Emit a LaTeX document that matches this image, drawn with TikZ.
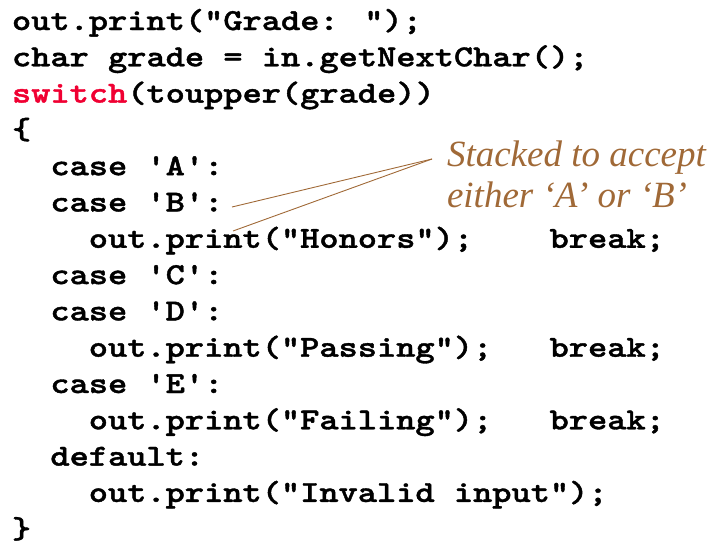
\documentclass[tikz,border=0pt]{standalone}
\usepackage{fontspec}
\usetikzlibrary{calc}
\newfontfamily\notefont{Liberation Serif}
\newfontfamily\codefont{lmmonolt10-bold}[Extension=.otf, FakeBold=1.2]
\definecolor{kwred}{RGB}{240,0,50}
\definecolor{notebrown}{RGB}{160,105,55}
\definecolor{titlegreen}{RGB}{0,170,70}
\newcommand\codeline[1]{\scalebox{1.2}[1]{#1}}
\tikzset{
  code/.style={anchor=base west, inner sep=0pt, outer sep=0pt,
    font=\codefont\fontsize{30.5}{36}\selectfont, text=black},
  note/.style={anchor=base west, inner sep=0pt, outer sep=0pt,
    font=\notefont\itshape\fontsize{37}{42}\selectfont, text=notebrown},
  pointer/.style={draw=notebrown, line width=0.9pt}
}
\begin{document}
\begin{tikzpicture}[x=1pt,y=-1pt]
\useasboundingbox (0,0) rectangle (712,546);
\def\cw{19.2}
\def\lx{12}
% green fragment of a title above
\fill[titlegreen] (298,0) arc[start angle=180, end angle=360, x radius=10, y radius=3] -- cycle;
% code lines
\node[code] (l0) at (\lx, 30) {\codeline{out.print("Grade: ”);}};
\node[code] (l1) at (\lx, 66.3) {\codeline{char grade = in.getNextChar();}};
\node[code] (l2) at (\lx, 102.6) {\codeline{\textcolor{kwred}{switch}(toupper(grade))}};
\node[code] (l3) at (\lx, 138.9) {\codeline{\{}};
\node[code] (l4) at (\lx+2*\cw, 175.2) {\codeline{case 'A':}};
\node[code] (l5) at (\lx+2*\cw, 211.5) {\codeline{case 'B':}};
\node[code] (l6) at (\lx+4*\cw, 247.8) {\codeline{out.print("Honors”);}};
\node[code] (l6b) at (\lx+28*\cw, 247.8) {\codeline{break;}};
\node[code] (l7) at (\lx+2*\cw, 284.1) {\codeline{case 'C':}};
\node[code] (l8) at (\lx+2*\cw, 320.4) {\codeline{case 'D':}};
\node[code] (l9) at (\lx+4*\cw, 356.7) {\codeline{out.print("Passing”);}};
\node[code] (l9b) at (\lx+28*\cw, 356.7) {\codeline{break;}};
\node[code] (l10) at (\lx+2*\cw, 393.0) {\codeline{case 'E':}};
\node[code] (l11) at (\lx+4*\cw, 429.3) {\codeline{out.print("Failing”);}};
\node[code] (l11b) at (\lx+28*\cw, 429.3) {\codeline{break;}};
\node[code] (l12) at (\lx+2*\cw, 465.6) {\codeline{default:}};
\node[code] (l13) at (\lx+4*\cw, 501.9) {\codeline{out.print("Invalid input”);}};
\node[code] (l14) at (\lx, 538.2) {\codeline{\}}};
% annotation
\node[note] (n1) at (447, 166) {Stacked to accept};
\node[note] (n2) at (447, 207) {either ‘A’ or ‘B’};
\coordinate (tip) at (432,159);
\coordinate (endB) at (232,207);
\coordinate (endH) at (233,231);
\draw[pointer] (tip) -- (endB);
\draw[pointer] (tip) -- (endH);
\end{tikzpicture}
\end{document}
